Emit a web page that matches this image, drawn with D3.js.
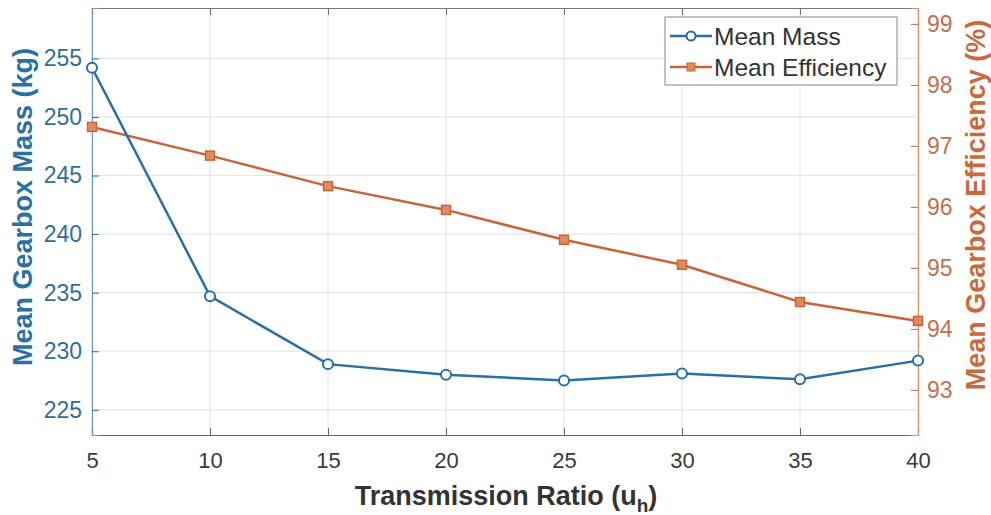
<!DOCTYPE html>
<html>
<head>
<meta charset="utf-8">
<script src="https://cdn.jsdelivr.net/npm/d3@7"></script>
<style>
    body { margin: 0; background: #fff; }
    text { font-family: "Liberation Sans", Arial, sans-serif; }
</style>
</head>
<body>
<div id="chart"></div>
<script>
"use strict";

// data
var ratios = [5, 10, 15, 20, 25, 30, 35, 40];
var meanMass = [254.2, 234.7, 228.9, 228.0, 227.5, 228.1, 227.6, 229.2];
var meanEff = [97.31, 96.84, 96.34, 95.95, 95.46, 95.05, 94.44, 94.13];
var massTicks = [225, 230, 235, 240, 245, 250, 255];
var effTicks = [93, 94, 95, 96, 97, 98, 99];

function chart() {
    var w = 991;
    var h = 515;
    var pLeft = 92, pRight = 918, pTop = 8, pBottom = 435;

    var blue = "#2a6fa0";
    var orange = "#c8643a";

    var svg = d3.select("#chart")
        .append("svg")
        .attr("width", w)
        .attr("height", h);

    var x = d3.scaleLinear().domain([5, 40]).range([pLeft, pRight]);
    var yL = d3.scaleLinear().domain([222.85, 259.3]).range([pBottom, pTop]);
    var yR = d3.scaleLinear().domain([92.26, 99.26]).range([pBottom, pTop]);

    //grid lines
    svg.append("g")
        .selectAll("line")
        .data(ratios)
        .enter()
        .append("line")
        .attr("x1", function (d) { return x(d); })
        .attr("x2", function (d) { return x(d); })
        .attr("y1", pTop)
        .attr("y2", pBottom)
        .attr("stroke", "#e3e6ea")
        .attr("stroke-width", 1.2);

    svg.append("g")
        .selectAll("line")
        .data(massTicks)
        .enter()
        .append("line")
        .attr("x1", pLeft)
        .attr("x2", pRight)
        .attr("y1", function (d) { return yL(d); })
        .attr("y2", function (d) { return yL(d); })
        .attr("stroke", "#dfe6ee")
        .attr("stroke-width", 1.2);

    //axes
    var xAxis = svg.append("g")
        .attr("transform", "translate(0," + pBottom + ")")
        .call(d3.axisBottom(x).tickValues(ratios).tickSize(-7).tickPadding(17));
    xAxis.select(".domain").attr("stroke", "#666").attr("stroke-width", 1.2);
    xAxis.selectAll(".tick line").attr("stroke", "#666");
    xAxis.selectAll("text").attr("fill", "#3a3a3a").style("font-size", "22px");

    var topAxis = svg.append("g")
        .attr("transform", "translate(0," + pTop + ")")
        .call(d3.axisTop(x).tickValues(ratios).tickSize(-7).tickFormat(""));
    topAxis.select(".domain").attr("stroke", "#777").attr("stroke-width", 1.2);
    topAxis.selectAll(".tick line").attr("stroke", "#777");

    var lAxis = svg.append("g")
        .attr("transform", "translate(" + pLeft + ",0)")
        .call(d3.axisLeft(yL).tickValues(massTicks).tickSize(-7).tickPadding(10));
    lAxis.select(".domain").attr("stroke", "#6f97b8").attr("stroke-width", 1.2);
    lAxis.selectAll(".tick line").attr("stroke", blue);
    lAxis.selectAll("text").attr("fill", "#2f6e9c").style("font-size", "23px");

    var rAxis = svg.append("g")
        .attr("transform", "translate(" + pRight + ",0)")
        .call(d3.axisRight(yR).tickValues(effTicks).tickSize(-7).tickPadding(9).tickFormat(d3.format("d")));
    rAxis.select(".domain").attr("stroke", "#d9916e").attr("stroke-width", 1.2);
    rAxis.selectAll(".tick line").attr("stroke", orange);
    rAxis.selectAll("text").attr("fill", "#c0714f").style("font-size", "23px");

    //lines
    var massLine = d3.line()
        .x(function (d, i) { return x(ratios[i]); })
        .y(function (d) { return yL(d); });

    var effLine = d3.line()
        .x(function (d, i) { return x(ratios[i]); })
        .y(function (d) { return yR(d); });

    svg.append("path")
        .datum(meanEff)
        .attr("d", effLine)
        .attr("fill", "none")
        .attr("stroke", orange)
        .attr("stroke-width", 2.5);

    svg.append("g")
        .selectAll("rect")
        .data(meanEff)
        .enter()
        .append("rect")
        .attr("x", function (d, i) { return x(ratios[i]) - 4.5; })
        .attr("y", function (d) { return yR(d) - 4.5; })
        .attr("width", 9)
        .attr("height", 9)
        .attr("fill", "#e08a60")
        .attr("stroke", orange)
        .attr("stroke-width", 1.5);

    svg.append("path")
        .datum(meanMass)
        .attr("d", massLine)
        .attr("fill", "none")
        .attr("stroke", blue)
        .attr("stroke-width", 2.5);

    svg.append("g")
        .selectAll("circle")
        .data(meanMass)
        .enter()
        .append("circle")
        .attr("cx", function (d, i) { return x(ratios[i]); })
        .attr("cy", function (d) { return yL(d); })
        .attr("r", 5)
        .attr("fill", "#fff")
        .attr("stroke", blue)
        .attr("stroke-width", 2);

    //axis labels
    var xl = svg.append("text")
        .attr("x", 506)
        .attr("y", 505)
        .attr("text-anchor", "middle")
        .attr("fill", "#333")
        .style("font-size", "27px")
        .style("font-weight", "bold");
    xl.append("tspan").text("Transmission Ratio (u");
    xl.append("tspan").attr("dy", 7).style("font-size", "19px").text("h");
    xl.append("tspan").attr("dy", -7).text(")");

    svg.append("text")
        .attr("transform", "translate(32,207) rotate(-90)")
        .attr("text-anchor", "middle")
        .attr("fill", "#2a70a3")
        .style("font-size", "27px")
        .style("font-weight", "bold")
        .text("Mean Gearbox Mass (kg)");

    svg.append("text")
        .attr("transform", "translate(985,205) rotate(-90)")
        .attr("text-anchor", "middle")
        .attr("fill", "#c96a3c")
        .style("font-size", "27px")
        .style("font-weight", "bold")
        .text("Mean Gearbox Efficiency (%)");

    //legend
    var legend = svg.append("g").attr("transform", "translate(665,17)");
    legend.append("rect")
        .attr("width", 232)
        .attr("height", 68)
        .attr("fill", "#fff")
        .attr("stroke", "#999")
        .attr("stroke-width", 1.2);

    var legendItems = [
        { name: "Mean Mass", color: blue, shape: "circle" },
        { name: "Mean Efficiency", color: orange, shape: "square" }
    ];

    legendItems.forEach(function (item, i) {
        var ly = 19 + i * 31;
        legend.append("line")
            .attr("x1", 5).attr("x2", 47)
            .attr("y1", ly).attr("y2", ly)
            .attr("stroke", item.color)
            .attr("stroke-width", 2.5);
        if (item.shape == "circle") {
            legend.append("circle")
                .attr("cx", 26).attr("cy", ly).attr("r", 4.5)
                .attr("fill", "#fff")
                .attr("stroke", item.color)
                .attr("stroke-width", 2);
        } else {
            legend.append("rect")
                .attr("x", 22).attr("y", ly - 4).attr("width", 8).attr("height", 8)
                .attr("fill", "#e08a60")
                .attr("stroke", item.color);
        }
        legend.append("text")
            .attr("x", 49)
            .attr("y", ly + 9)
            .attr("fill", "#333")
            .style("font-size", "24.5px")
            .text(item.name);
    });
}

chart();
</script>
</body>
</html>
